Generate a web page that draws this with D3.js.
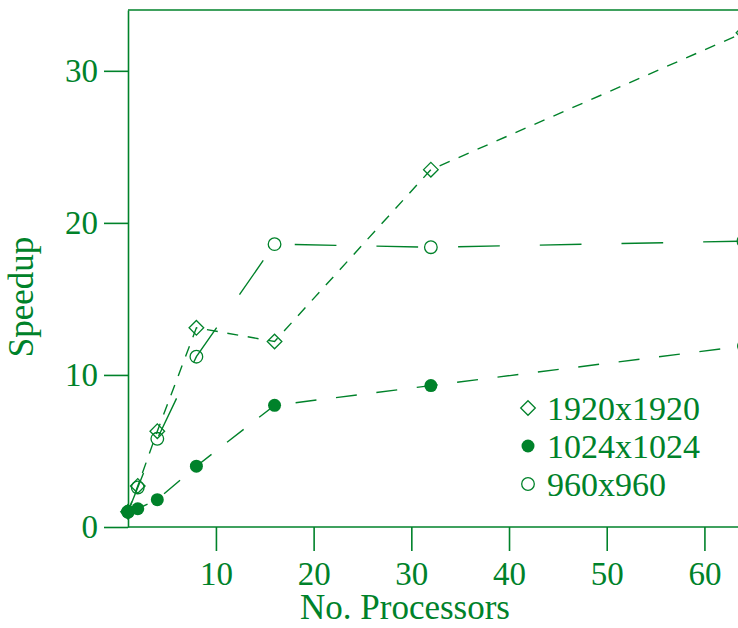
<!DOCTYPE html>
<html>
<head>
<meta charset="utf-8">
<script src="https://cdn.jsdelivr.net/npm/d3@7"></script>
<style>
  body { margin: 0; background: #fff; }
  svg text { font-family: "Liberation Serif", "DejaVu Serif", serif; }
</style>
</head>
<body>
<svg id="chart" width="738" height="628"></svg>
<script>
// processors on the x axis
const procs = [1, 2, 4, 8, 16, 32, 64];

// speedup per problem size
const speed1920 = [1.0, 2.7, 6.3, 13.1, 12.2, 23.5, 32.5];
const speed1024 = [1.0, 1.2, 1.8, 4.0, 8.0, 9.3, 11.9];
const speed960 = [1.0, 2.6, 5.8, 11.2, 18.6, 18.4, 18.8];

const seriesNames = ["1920x1920", "1024x1024", "960x960"];
const xTicks = [10, 20, 30, 40, 50, 60];
const yTicks = [0, 10, 20, 30];

const green = "#00822a";
const serif = '"Liberation Serif", "DejaVu Serif", serif';

const svg = d3.select("#chart");

const x = d3.scaleLinear().domain([1, 64]).range([128, 743.5]);
const y = d3.scaleLinear().domain([0, 34]).range([527, 10]);

// frame: top line
svg.append("line")
  .attr("x1", x(1)).attr("x2", x(64) + 10)
  .attr("y1", y(34)).attr("y2", y(34))
  .attr("stroke", green).attr("stroke-width", 1.6);

const yAxis = svg.append("g")
  .attr("transform", `translate(${x(1)},0)`)
  .call(d3.axisLeft(y).tickValues(yTicks).tickSize(24).tickSizeOuter(0).tickPadding(6).tickFormat(d3.format("d")));

const xAxis = svg.append("g")
  .attr("transform", `translate(0,${y(0)})`)
  .call(d3.axisBottom(x).tickValues(xTicks).tickSize(24).tickSizeOuter(0).tickPadding(11).tickFormat(d3.format("d")));

[yAxis, xAxis].forEach(function(ax) {
  ax.attr("font-family", null).attr("font-size", null);
  ax.select(".domain").attr("stroke", green).attr("stroke-width", 1.6);
  ax.selectAll(".tick line").attr("stroke", green).attr("stroke-width", 1.6);
  ax.selectAll(".tick text")
    .attr("fill", green)
    .style("font-size", "33px")
    .style("font-family", serif);
});
xAxis.select(".domain").attr("d", `M${x(1)},0H${x(64) + 10}`);

// axis titles
svg.append("text")
  .attr("x", 405).attr("y", 619)
  .attr("text-anchor", "middle")
  .attr("fill", green)
  .style("font-family", serif)
  .style("font-size", "35px")
  .text("No. Processors");

svg.append("text")
  .attr("transform", "translate(33,297) rotate(-90)")
  .attr("text-anchor", "middle")
  .attr("fill", green)
  .style("font-family", serif)
  .style("font-size", "35px")
  .text("Speedup");

const series = [
  { name: seriesNames[0], values: speed1920, dash: "11,9.7", marker: "diamond" },
  { name: seriesNames[1], values: speed1024, dash: "21,19.7", marker: "dot" },
  { name: seriesNames[2], values: speed960, dash: "41.7,40", marker: "circle" }
];

const line = d3.line()
  .x((d) => x(d[0]))
  .y((d) => y(d[1]));

series.forEach(function(s) {
  const pts = procs.map((p, i) => [p, s.values[i]]);
  svg.append("path")
    .datum(pts)
    .attr("d", line)
    .attr("fill", "none")
    .attr("stroke", green)
    .attr("stroke-width", 1.4)
    .attr("stroke-dasharray", s.dash);
});

function drawMarker(g, kind, cx, cy) {
  if (kind === "diamond") {
    const h = 7.3;
    g.append("path")
      .attr("d", `M${cx},${cy - h}L${cx + h},${cy}L${cx},${cy + h}L${cx - h},${cy}Z`)
      .attr("fill", "none")
      .attr("stroke", green)
      .attr("stroke-width", 1.3);
  } else if (kind === "dot") {
    g.append("circle")
      .attr("cx", cx).attr("cy", cy).attr("r", 6.5)
      .attr("fill", green);
  } else {
    g.append("circle")
      .attr("cx", cx).attr("cy", cy).attr("r", 6.3)
      .attr("fill", "none")
      .attr("stroke", green)
      .attr("stroke-width", 1.3);
  }
}

const markers = svg.append("g");
[series[0], series[2], series[1]].forEach(function(s) {
  procs.forEach(function(p, i) {
    drawMarker(markers, s.marker, x(p), y(s.values[i]));
  });
});

// legend
const legend = svg.append("g");
series.forEach(function(s, i) {
  const ly = 408 + i * 38;
  drawMarker(legend, s.marker, 528, ly);
  legend.append("text")
    .attr("x", 547).attr("y", ly + 11.5)
    .attr("fill", green)
    .style("font-family", serif)
    .style("font-size", "34px")
    .text(s.name);
});
</script>
</body>
</html>
